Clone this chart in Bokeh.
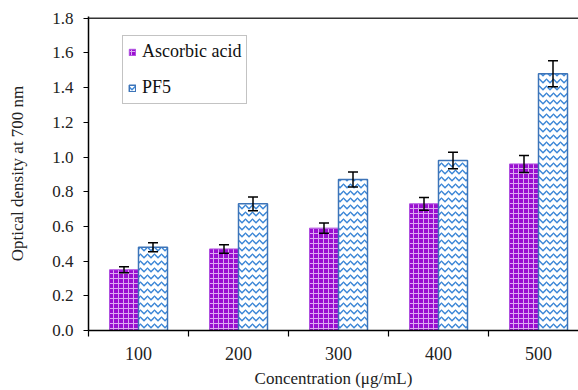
from bokeh.plotting import figure
from bokeh.models import (ColumnDataSource, Whisker, TeeHead, FixedTicker, Range1d,
                          Span, Legend, LegendItem, PrintfTickFormatter)
from bokeh.embed import file_html
from bokeh.resources import INLINE

categories = ["100", "200", "300", "400", "500"]
ascorbic = [0.35, 0.47, 0.59, 0.73, 0.96]
ascorbic_err = [0.017, 0.024, 0.030, 0.037, 0.049]
pf5 = [0.48, 0.73, 0.87, 0.98, 1.48]
pf5_err = [0.026, 0.040, 0.043, 0.047, 0.075]
y_ticks = [0.0, 0.2, 0.4, 0.6, 0.8, 1.0, 1.2, 1.4, 1.6, 1.8]

FONT = "Liberation Serif"
pos = [i + 1 for i in range(len(categories))]
off = 0.145
bw = 0.29

src_a = ColumnDataSource(dict(
    x=[p_ - off for p_ in pos], top=ascorbic,
    upper=[v + e for v, e in zip(ascorbic, ascorbic_err)],
    lower=[v - e for v, e in zip(ascorbic, ascorbic_err)]))
src_p = ColumnDataSource(dict(
    x=[p_ + off for p_ in pos], top=pf5,
    upper=[v + e for v, e in zip(pf5, pf5_err)],
    lower=[v - e for v, e in zip(pf5, pf5_err)]))

p = figure(width=578, height=390, output_backend="svg", toolbar_location=None,
           x_range=Range1d(0.5, 5.4), y_range=Range1d(0, 1.81),
           min_border_left=88, min_border_right=0, min_border_top=16, min_border_bottom=59)
p.outline_line_color = None
p.grid.visible = False
p.background_fill_color = "white"

r1 = p.vbar(x="x", top="top", width=bw, source=src_a,
            fill_color="#9a0fd0", line_color="#b050e0", line_width=1,
            hatch_pattern="cross", hatch_color="#dca8f2", hatch_scale=5, hatch_weight=1)
r2 = p.vbar(x="x", top="top", width=bw, source=src_p,
            fill_color="white", line_color="#3d74b8", line_width=1.5,
            hatch_pattern="horizontal_wave", hatch_color="#3a86d6", hatch_scale=7, hatch_weight=1.5)

for src in (src_a, src_p):
    w = Whisker(base="x", upper="upper", lower="lower", source=src, level="overlay",
                line_color="black", line_width=1.5,
                upper_head=TeeHead(size=10, line_color="black", line_width=1.5),
                lower_head=TeeHead(size=10, line_color="black", line_width=1.5))
    p.add_layout(w)

p.add_layout(Span(location=1.8, dimension="width", line_color="#333333", line_width=1.5))

# y axis
ya = p.yaxis[0]
ya.ticker = FixedTicker(ticks=y_ticks)
ya.formatter = PrintfTickFormatter(format="%.1f")
ya.minor_tick_line_color = None
ya.major_tick_in = 0
ya.major_tick_out = 5
ya.axis_line_width = 1.5
ya.major_tick_line_width = 1.2
ya.major_label_text_font = FONT
ya.major_label_text_font_size = "17px"
ya.major_label_text_color = "#222222"
ya.major_label_standoff = 10
ya.axis_label = "Optical density at 700 nm"
ya.axis_label_text_font = FONT
ya.axis_label_text_font_size = "17px"
ya.axis_label_text_font_style = "normal"
ya.axis_label_text_color = "#222222"
ya.axis_label_standoff = 22

# x axis
xa = p.xaxis[0]
xa.ticker = FixedTicker(ticks=pos, minor_ticks=[i + 0.5 for i in range(len(categories) + 1)])
xa.major_label_overrides = {pp: c for pp, c in zip(pos, categories)}
xa.major_tick_line_color = None
xa.major_tick_in = 0
xa.major_tick_out = 0
xa.minor_tick_in = 0
xa.minor_tick_out = 6
xa.minor_tick_line_width = 1.2
xa.axis_line_width = 1.5
xa.major_label_text_font = FONT
xa.major_label_text_font_size = "18px"
xa.major_label_text_color = "#222222"
xa.major_label_standoff = 10
xa.axis_label = "Concentration (\u03bcg/mL)"
xa.axis_label_text_font = FONT
xa.axis_label_text_font_size = "17px"
xa.axis_label_text_font_style = "normal"
xa.axis_label_text_color = "#222222"
xa.axis_label_standoff = 6

legend = Legend(items=[LegendItem(label="Ascorbic acid", renderers=[r1]),
                       LegendItem(label="PF5", renderers=[r2])],
                location=(34, 226), orientation="vertical")
legend.border_line_color = "#888888"
legend.border_line_width = 1.5
legend.background_fill_alpha = 1
legend.label_text_font = FONT
legend.label_text_font_size = "18px"
legend.label_text_color = "#111111"
legend.glyph_width = 8
legend.glyph_height = 8
legend.label_standoff = 6
legend.padding = 5
legend.spacing = 15
legend.margin = 0
legend.label_height = 20
p.add_layout(legend)

open("out.html", "w").write(file_html(p, INLINE))
